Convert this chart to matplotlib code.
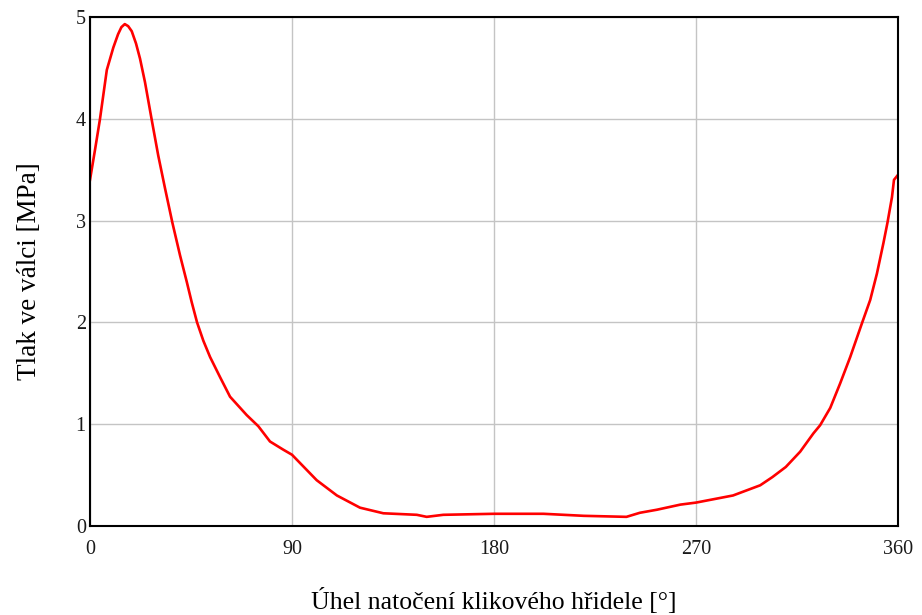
import matplotlib
matplotlib.use("Agg")
import matplotlib.pyplot as plt

# uhel natoceni [deg] a tlak ve valci [MPa]
uhel = [0, 2.2, 4.4, 7.5, 10.4, 12.5, 14, 15.5, 17, 18.6, 20.5, 22.3,
        24.5, 27.5, 30.4, 33.4, 36.7, 40.1, 43.1, 45.3, 47.7, 50.5, 53.5,
        58, 62.4, 69.8, 75, 80.2, 86.1, 90, 101, 110, 120.3, 130.7, 145.6,
        150, 157.4, 180, 202, 220, 239, 245, 252.6, 263, 270, 286.5, 298.6,
        304, 310, 316.4, 322.3, 325.3, 329.8, 334.2, 338.7, 343.9, 347.6,
        350.6, 353.5, 355.3, 357.3, 358.2, 360]
tlak = [3.40, 3.69, 3.99, 4.48, 4.70, 4.83, 4.90, 4.93, 4.91, 4.86, 4.74,
        4.59, 4.36, 3.99, 3.64, 3.32, 2.98, 2.66, 2.40, 2.20, 2.00, 1.82,
        1.66, 1.46, 1.27, 1.09, 0.98, 0.83, 0.75, 0.70, 0.45, 0.30, 0.18,
        0.125, 0.11, 0.09, 0.11, 0.12, 0.12, 0.10, 0.09, 0.13, 0.16, 0.21,
        0.23, 0.30, 0.40, 0.48, 0.58, 0.73, 0.91, 0.99, 1.16, 1.40, 1.66,
        1.99, 2.22, 2.48, 2.78, 2.98, 3.23, 3.40, 3.45]

x_ticks = [0, 90, 180, 270, 360]
y_ticks = [0, 1, 2, 3, 4, 5]

plt.rcParams['font.family'] = ['Liberation Serif', 'DejaVu Serif']

fig = plt.figure(figsize=(9.22, 6.15), dpi=100)
ax = fig.add_axes([0.0976, 0.1447, 0.8764, 0.8277])

ax.plot(uhel, tlak, color='#ff0000', linewidth=1.9)

ax.set_xlim(0, 360)
ax.set_ylim(0, 5)
ax.set_xticks(x_ticks)
ax.set_yticks(y_ticks)
ax.tick_params(length=0, labelsize=14.5, colors='#1a1a1a')
ax.tick_params(axis='x', pad=10)
ax.tick_params(axis='y', pad=3)
ax.grid(True, color='#c4c4c4', linewidth=1.0)
for s in ax.spines.values():
    s.set_color('black')
    s.set_linewidth(1.5)

ax.set_xlabel("Úhel natočení klikového hřidele [°]", fontsize=18.5, labelpad=21)
ax.set_ylabel("Tlak ve válci [MPa]", fontsize=19.5, labelpad=24)

fig.savefig("out.png", dpi=100)
